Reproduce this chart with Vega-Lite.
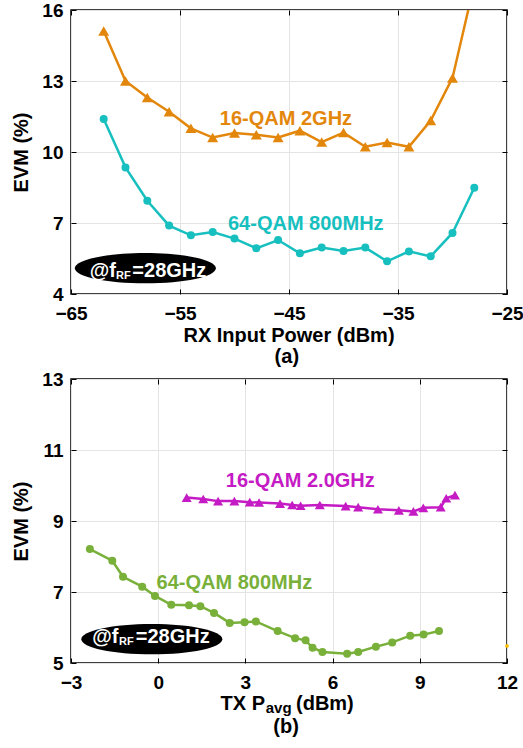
{
  "$schema": "https://vega.github.io/schema/vega-lite/v6.json",
  "background": "white",
  "padding": {"left": 11, "top": 0, "right": 0, "bottom": 0},
  "spacing": 1,
  "datasets": {
    "rx": [
      {"series": "16-QAM 2GHz", "power_dbm": -62, "evm_pct": 15.11},
      {"series": "16-QAM 2GHz", "power_dbm": -60, "evm_pct": 13.0},
      {"series": "16-QAM 2GHz", "power_dbm": -58, "evm_pct": 12.3},
      {"series": "16-QAM 2GHz", "power_dbm": -56, "evm_pct": 11.7},
      {"series": "16-QAM 2GHz", "power_dbm": -54, "evm_pct": 11.0},
      {"series": "16-QAM 2GHz", "power_dbm": -52, "evm_pct": 10.61},
      {"series": "16-QAM 2GHz", "power_dbm": -50, "evm_pct": 10.8},
      {"series": "16-QAM 2GHz", "power_dbm": -48, "evm_pct": 10.73},
      {"series": "16-QAM 2GHz", "power_dbm": -46, "evm_pct": 10.61},
      {"series": "16-QAM 2GHz", "power_dbm": -44, "evm_pct": 10.9},
      {"series": "16-QAM 2GHz", "power_dbm": -42, "evm_pct": 10.42},
      {"series": "16-QAM 2GHz", "power_dbm": -40, "evm_pct": 10.82},
      {"series": "16-QAM 2GHz", "power_dbm": -38, "evm_pct": 10.22},
      {"series": "16-QAM 2GHz", "power_dbm": -36, "evm_pct": 10.4},
      {"series": "16-QAM 2GHz", "power_dbm": -34, "evm_pct": 10.22},
      {"series": "16-QAM 2GHz", "power_dbm": -32, "evm_pct": 11.33},
      {"series": "16-QAM 2GHz", "power_dbm": -30, "evm_pct": 13.13},
      {"series": "16-QAM 2GHz", "power_dbm": -28, "evm_pct": 17.1},
      {"series": "64-QAM 800MHz", "power_dbm": -62, "evm_pct": 11.39},
      {"series": "64-QAM 800MHz", "power_dbm": -60, "evm_pct": 9.35},
      {"series": "64-QAM 800MHz", "power_dbm": -58, "evm_pct": 7.94},
      {"series": "64-QAM 800MHz", "power_dbm": -56, "evm_pct": 6.89},
      {"series": "64-QAM 800MHz", "power_dbm": -54, "evm_pct": 6.48},
      {"series": "64-QAM 800MHz", "power_dbm": -52, "evm_pct": 6.62},
      {"series": "64-QAM 800MHz", "power_dbm": -50, "evm_pct": 6.34},
      {"series": "64-QAM 800MHz", "power_dbm": -48, "evm_pct": 5.93},
      {"series": "64-QAM 800MHz", "power_dbm": -46, "evm_pct": 6.28},
      {"series": "64-QAM 800MHz", "power_dbm": -44, "evm_pct": 5.72},
      {"series": "64-QAM 800MHz", "power_dbm": -42, "evm_pct": 5.96},
      {"series": "64-QAM 800MHz", "power_dbm": -40, "evm_pct": 5.82},
      {"series": "64-QAM 800MHz", "power_dbm": -38, "evm_pct": 5.96},
      {"series": "64-QAM 800MHz", "power_dbm": -36, "evm_pct": 5.38},
      {"series": "64-QAM 800MHz", "power_dbm": -34, "evm_pct": 5.8},
      {"series": "64-QAM 800MHz", "power_dbm": -32, "evm_pct": 5.59},
      {"series": "64-QAM 800MHz", "power_dbm": -30, "evm_pct": 6.58},
      {"series": "64-QAM 800MHz", "power_dbm": -28, "evm_pct": 8.49}
    ],
    "tx": [
      {"series": "16-QAM 2.0GHz", "pavg_dbm": 0.98, "evm_pct": 9.66},
      {"series": "16-QAM 2.0GHz", "pavg_dbm": 1.55, "evm_pct": 9.62},
      {"series": "16-QAM 2.0GHz", "pavg_dbm": 2.06, "evm_pct": 9.56},
      {"series": "16-QAM 2.0GHz", "pavg_dbm": 2.62, "evm_pct": 9.56},
      {"series": "16-QAM 2.0GHz", "pavg_dbm": 3.15, "evm_pct": 9.53},
      {"series": "16-QAM 2.0GHz", "pavg_dbm": 3.47, "evm_pct": 9.52},
      {"series": "16-QAM 2.0GHz", "pavg_dbm": 4.19, "evm_pct": 9.49},
      {"series": "16-QAM 2.0GHz", "pavg_dbm": 4.61, "evm_pct": 9.45},
      {"series": "16-QAM 2.0GHz", "pavg_dbm": 4.9, "evm_pct": 9.43},
      {"series": "16-QAM 2.0GHz", "pavg_dbm": 5.56, "evm_pct": 9.45},
      {"series": "16-QAM 2.0GHz", "pavg_dbm": 6.45, "evm_pct": 9.42},
      {"series": "16-QAM 2.0GHz", "pavg_dbm": 6.88, "evm_pct": 9.39},
      {"series": "16-QAM 2.0GHz", "pavg_dbm": 7.56, "evm_pct": 9.33},
      {"series": "16-QAM 2.0GHz", "pavg_dbm": 8.28, "evm_pct": 9.3},
      {"series": "16-QAM 2.0GHz", "pavg_dbm": 8.78, "evm_pct": 9.27},
      {"series": "16-QAM 2.0GHz", "pavg_dbm": 9.12, "evm_pct": 9.37},
      {"series": "16-QAM 2.0GHz", "pavg_dbm": 9.72, "evm_pct": 9.39},
      {"series": "16-QAM 2.0GHz", "pavg_dbm": 9.91, "evm_pct": 9.64},
      {"series": "16-QAM 2.0GHz", "pavg_dbm": 10.21, "evm_pct": 9.73},
      {"series": "64-QAM 800MHz", "pavg_dbm": -2.35, "evm_pct": 8.21},
      {"series": "64-QAM 800MHz", "pavg_dbm": -1.58, "evm_pct": 7.88},
      {"series": "64-QAM 800MHz", "pavg_dbm": -1.21, "evm_pct": 7.43},
      {"series": "64-QAM 800MHz", "pavg_dbm": -0.55, "evm_pct": 7.15},
      {"series": "64-QAM 800MHz", "pavg_dbm": -0.11, "evm_pct": 6.89},
      {"series": "64-QAM 800MHz", "pavg_dbm": 0.45, "evm_pct": 6.64},
      {"series": "64-QAM 800MHz", "pavg_dbm": 1.06, "evm_pct": 6.63},
      {"series": "64-QAM 800MHz", "pavg_dbm": 1.45, "evm_pct": 6.6},
      {"series": "64-QAM 800MHz", "pavg_dbm": 1.92, "evm_pct": 6.41},
      {"series": "64-QAM 800MHz", "pavg_dbm": 2.46, "evm_pct": 6.13},
      {"series": "64-QAM 800MHz", "pavg_dbm": 2.97, "evm_pct": 6.15},
      {"series": "64-QAM 800MHz", "pavg_dbm": 3.36, "evm_pct": 6.17},
      {"series": "64-QAM 800MHz", "pavg_dbm": 4.11, "evm_pct": 5.9},
      {"series": "64-QAM 800MHz", "pavg_dbm": 4.71, "evm_pct": 5.7},
      {"series": "64-QAM 800MHz", "pavg_dbm": 5.07, "evm_pct": 5.64},
      {"series": "64-QAM 800MHz", "pavg_dbm": 5.31, "evm_pct": 5.43},
      {"series": "64-QAM 800MHz", "pavg_dbm": 5.65, "evm_pct": 5.31},
      {"series": "64-QAM 800MHz", "pavg_dbm": 6.5, "evm_pct": 5.26},
      {"series": "64-QAM 800MHz", "pavg_dbm": 6.88, "evm_pct": 5.31},
      {"series": "64-QAM 800MHz", "pavg_dbm": 7.49, "evm_pct": 5.46},
      {"series": "64-QAM 800MHz", "pavg_dbm": 8.05, "evm_pct": 5.58},
      {"series": "64-QAM 800MHz", "pavg_dbm": 8.67, "evm_pct": 5.77},
      {"series": "64-QAM 800MHz", "pavg_dbm": 9.13, "evm_pct": 5.8},
      {"series": "64-QAM 800MHz", "pavg_dbm": 9.66, "evm_pct": 5.9}
    ]
  },
  "vconcat": [
    {
      "width": 436,
      "height": 284,
      "resolve": {"axis": {"x": "independent", "y": "independent"}},
      "layer": [
        {
          "data": {"name": "rx"},
          "mark": {"type": "line", "strokeWidth": 2.5, "clip": true},
          "encoding": {
            "x": {"field": "power_dbm", "type": "quantitative",
                  "scale": {"domain": [-65, -25], "nice": false, "zero": false},
                  "axis": {"values": [-65, -55, -45, -35, -25], "title": null}},
            "y": {"field": "evm_pct", "type": "quantitative",
                  "scale": {"domain": [4, 16], "nice": false, "zero": false},
                  "axis": {"values": [4, 7, 10, 13, 16], "title": "EVM (%)"}},
            "color": {"field": "series", "type": "nominal", "legend": null,
                      "scale": {"domain": ["16-QAM 2GHz", "64-QAM 800MHz"], "range": ["#e3870c", "#17bfbf"]}}
          }
        },
        {
          "data": {"name": "rx"},
          "transform": [{"filter": "datum.series === '16-QAM 2GHz'"}],
          "mark": {"type": "point", "shape": "triangle-up", "filled": true, "opacity": 1, "size": 120, "clip": true},
          "encoding": {
            "x": {"field": "power_dbm", "type": "quantitative", "axis": null},
            "y": {"field": "evm_pct", "type": "quantitative", "axis": null},
            "color": {"field": "series", "type": "nominal", "legend": null}
          }
        },
        {
          "data": {"name": "rx"},
          "transform": [{"filter": "datum.series === '64-QAM 800MHz'"}],
          "mark": {"type": "point", "shape": "circle", "filled": true, "opacity": 1, "size": 64, "clip": true},
          "encoding": {
            "x": {"field": "power_dbm", "type": "quantitative", "axis": null},
            "y": {"field": "evm_pct", "type": "quantitative", "axis": null},
            "color": {"field": "series", "type": "nominal", "legend": null}
          }
        },
        {
          "data": {"values": [
            {"series": "16-QAM 2GHz", "x": -45.28, "y": 11.15},
            {"series": "64-QAM 800MHz", "x": -43.46, "y": 6.72}
          ]},
          "mark": {"type": "text", "fontSize": 20, "fontWeight": "bold", "align": "center", "baseline": "alphabetic"},
          "encoding": {
            "x": {"field": "x", "type": "quantitative", "axis": null},
            "y": {"field": "y", "type": "quantitative", "axis": null},
            "text": {"field": "series"},
            "color": {"field": "series", "type": "nominal", "legend": null}
          }
        },
        {
          "data": {"values": [{"x": -58.18, "y": 5.09}]},
          "mark": {"type": "point", "filled": true, "opacity": 1, "color": "black", "size": 19881,
                   "shape": "M1,0 C1,0.1188 0.5523,0.215 0,0.215 C-0.5523,0.215 -1,0.1188 -1,0 C-1,-0.1188 -0.5523,-0.215 0,-0.215 C0.5523,-0.215 1,-0.1188 1,0 Z"},
          "encoding": {
            "x": {"field": "x", "type": "quantitative",
                  "axis": {"orient": "top", "values": [-65, -55, -45, -35, -25], "labels": false, "grid": false, "title": null}},
            "y": {"field": "y", "type": "quantitative",
                  "axis": {"orient": "right", "values": [4, 7, 10, 13, 16], "labels": false, "grid": false, "title": null}}
          }
        },
        {
          "data": {"values": [{"x": -58.18, "y": 5.09, "t": "@f"}]},
          "mark": {"type": "text", "fontSize": 20, "fontWeight": "bold", "color": "white", "align": "left", "baseline": "alphabetic", "dx": -55.6, "dy": 8.7},
          "encoding": {"x": {"field": "x", "type": "quantitative", "axis": null}, "y": {"field": "y", "type": "quantitative", "axis": null}, "text": {"field": "t"}}
        },
        {
          "data": {"values": [{"x": -58.18, "y": 5.09, "t": "RF"}]},
          "mark": {"type": "text", "fontSize": 11, "fontWeight": "bold", "color": "white", "align": "left", "baseline": "alphabetic", "dx": -29.3, "dy": 11},
          "encoding": {"x": {"field": "x", "type": "quantitative", "axis": null}, "y": {"field": "y", "type": "quantitative", "axis": null}, "text": {"field": "t"}}
        },
        {
          "data": {"values": [{"x": -58.18, "y": 5.09, "t": "=28GHz"}]},
          "mark": {"type": "text", "fontSize": 20, "fontWeight": "bold", "color": "white", "align": "left", "baseline": "alphabetic", "dx": -13, "dy": 8.7},
          "encoding": {"x": {"field": "x", "type": "quantitative", "axis": null}, "y": {"field": "y", "type": "quantitative", "axis": null}, "text": {"field": "t"}}
        },
        {
          "data": {"values": [{"x": -45, "y": 4, "t": "RX Input Power (dBm)"}]},
          "mark": {"type": "text", "fontSize": 20, "fontWeight": "bold", "color": "black", "align": "center", "baseline": "alphabetic", "dy": 47.7},
          "encoding": {"x": {"field": "x", "type": "quantitative", "axis": null}, "y": {"field": "y", "type": "quantitative", "axis": null}, "text": {"field": "t"}}
        },
        {
          "data": {"values": [{"x": -45.2, "y": 4, "t": "(a)"}]},
          "mark": {"type": "text", "fontSize": 20, "fontWeight": "bold", "color": "black", "align": "center", "baseline": "alphabetic", "dy": 69},
          "encoding": {"x": {"field": "x", "type": "quantitative", "axis": null}, "y": {"field": "y", "type": "quantitative", "axis": null}, "text": {"field": "t"}}
        }
      ]
    },
    {
      "width": 436,
      "height": 284,
      "resolve": {"axis": {"x": "independent", "y": "independent"}},
      "layer": [
        {
          "data": {"name": "tx"},
          "mark": {"type": "line", "strokeWidth": 2.5, "clip": true},
          "encoding": {
            "x": {"field": "pavg_dbm", "type": "quantitative",
                  "scale": {"domain": [-3, 12], "nice": false, "zero": false},
                  "axis": {"values": [-3, 0, 3, 6, 9, 12], "title": null}},
            "y": {"field": "evm_pct", "type": "quantitative",
                  "scale": {"domain": [5, 13], "nice": false, "zero": false},
                  "axis": {"values": [5, 7, 9, 11, 13], "title": "EVM (%)"}},
            "color": {"field": "series", "type": "nominal", "legend": null,
                      "scale": {"domain": ["16-QAM 2.0GHz", "64-QAM 800MHz"], "range": ["#c51bc5", "#78b03a"]}}
          }
        },
        {
          "data": {"name": "tx"},
          "transform": [{"filter": "datum.series === '16-QAM 2.0GHz'"}],
          "mark": {"type": "point", "shape": "triangle-up", "filled": true, "opacity": 1, "size": 100, "clip": true},
          "encoding": {
            "x": {"field": "pavg_dbm", "type": "quantitative", "axis": null},
            "y": {"field": "evm_pct", "type": "quantitative", "axis": null},
            "color": {"field": "series", "type": "nominal", "legend": null}
          }
        },
        {
          "data": {"name": "tx"},
          "transform": [{"filter": "datum.series === '64-QAM 800MHz'"}],
          "mark": {"type": "point", "shape": "circle", "filled": true, "opacity": 1, "size": 64, "clip": true},
          "encoding": {
            "x": {"field": "pavg_dbm", "type": "quantitative", "axis": null},
            "y": {"field": "evm_pct", "type": "quantitative", "axis": null},
            "color": {"field": "series", "type": "nominal", "legend": null}
          }
        },
        {
          "data": {"values": [{"x": 12, "y": 5.48}]},
          "mark": {"type": "point", "shape": "circle", "filled": true, "opacity": 1, "size": 14, "color": "#ffbf00"},
          "encoding": {
            "x": {"field": "x", "type": "quantitative", "axis": null},
            "y": {"field": "y", "type": "quantitative", "axis": null}
          }
        },
        {
          "data": {"values": [
            {"series": "16-QAM 2.0GHz", "x": 4.89, "y": 9.97},
            {"series": "64-QAM 800MHz", "x": 2.62, "y": 7.08}
          ]},
          "mark": {"type": "text", "fontSize": 20, "fontWeight": "bold", "align": "center", "baseline": "alphabetic"},
          "encoding": {
            "x": {"field": "x", "type": "quantitative", "axis": null},
            "y": {"field": "y", "type": "quantitative", "axis": null},
            "text": {"field": "series"},
            "color": {"field": "series", "type": "nominal", "legend": null}
          }
        },
        {
          "data": {"values": [{"x": -0.22, "y": 5.67}]},
          "mark": {"type": "point", "filled": true, "opacity": 1, "color": "black", "size": 19881,
                   "shape": "M1,0 C1,0.1188 0.5523,0.215 0,0.215 C-0.5523,0.215 -1,0.1188 -1,0 C-1,-0.1188 -0.5523,-0.215 0,-0.215 C0.5523,-0.215 1,-0.1188 1,0 Z"},
          "encoding": {
            "x": {"field": "x", "type": "quantitative",
                  "axis": {"orient": "top", "values": [-3, 0, 3, 6, 9, 12], "labels": false, "grid": false, "title": null}},
            "y": {"field": "y", "type": "quantitative",
                  "axis": {"orient": "right", "values": [5, 7, 9, 11, 13], "labels": false, "grid": false, "title": null}}
          }
        },
        {
          "data": {"values": [{"x": -0.22, "y": 5.67, "t": "@f"}]},
          "mark": {"type": "text", "fontSize": 20, "fontWeight": "bold", "color": "white", "align": "left", "baseline": "alphabetic", "dx": -59.5, "dy": 4},
          "encoding": {"x": {"field": "x", "type": "quantitative", "axis": null}, "y": {"field": "y", "type": "quantitative", "axis": null}, "text": {"field": "t"}}
        },
        {
          "data": {"values": [{"x": -0.22, "y": 5.67, "t": "RF"}]},
          "mark": {"type": "text", "fontSize": 11, "fontWeight": "bold", "color": "white", "align": "left", "baseline": "alphabetic", "dx": -32.8, "dy": 6},
          "encoding": {"x": {"field": "x", "type": "quantitative", "axis": null}, "y": {"field": "y", "type": "quantitative", "axis": null}, "text": {"field": "t"}}
        },
        {
          "data": {"values": [{"x": -0.22, "y": 5.67, "t": "=28GHz"}]},
          "mark": {"type": "text", "fontSize": 20, "fontWeight": "bold", "color": "white", "align": "left", "baseline": "alphabetic", "dx": -16.1, "dy": 4},
          "encoding": {"x": {"field": "x", "type": "quantitative", "axis": null}, "y": {"field": "y", "type": "quantitative", "axis": null}, "text": {"field": "t"}}
        },
        {
          "data": {"values": [{"x": 4.5, "y": 5, "t": "TX P"}]},
          "mark": {"type": "text", "fontSize": 20, "fontWeight": "bold", "color": "black", "align": "right", "baseline": "alphabetic", "dx": -24, "dy": 47},
          "encoding": {"x": {"field": "x", "type": "quantitative", "axis": null}, "y": {"field": "y", "type": "quantitative", "axis": null}, "text": {"field": "t"}}
        },
        {
          "data": {"values": [{"x": 4.5, "y": 5, "t": "avg"}]},
          "mark": {"type": "text", "fontSize": 15, "fontWeight": "bold", "color": "black", "align": "left", "baseline": "alphabetic", "dx": -23.3, "dy": 49.5},
          "encoding": {"x": {"field": "x", "type": "quantitative", "axis": null}, "y": {"field": "y", "type": "quantitative", "axis": null}, "text": {"field": "t"}}
        },
        {
          "data": {"values": [{"x": 4.5, "y": 5, "t": "(dBm)"}]},
          "mark": {"type": "text", "fontSize": 20, "fontWeight": "bold", "color": "black", "align": "left", "baseline": "alphabetic", "dx": 7, "dy": 47},
          "encoding": {"x": {"field": "x", "type": "quantitative", "axis": null}, "y": {"field": "y", "type": "quantitative", "axis": null}, "text": {"field": "t"}}
        },
        {
          "data": {"values": [{"x": 4.4, "y": 5, "t": "(b)"}]},
          "mark": {"type": "text", "fontSize": 20, "fontWeight": "bold", "color": "black", "align": "center", "baseline": "alphabetic", "dy": 70},
          "encoding": {"x": {"field": "x", "type": "quantitative", "axis": null}, "y": {"field": "y", "type": "quantitative", "axis": null}, "text": {"field": "t"}}
        }
      ]
    }
  ],
  "resolve": {"scale": {"color": "independent"}},
  "config": {
    "font": "Liberation Sans",
    "view": {"stroke": "black", "strokeWidth": 1.5},
    "text": {"font": "Liberation Sans"},
    "axis": {
      "labelFont": "Liberation Sans",
      "labelFontWeight": "bold",
      "labelFontSize": 19,
      "labelColor": "black",
      "labelFlush": false,
      "labelOverlap": false,
      "titleFont": "Liberation Sans",
      "titleFontWeight": "bold",
      "titleFontSize": 20,
      "titleColor": "black",
      "titlePadding": 10,
      "domain": false,
      "grid": true,
      "gridColor": "#e4e4e4",
      "gridWidth": 1,
      "ticks": true,
      "tickColor": "black",
      "tickWidth": 1,
      "tickSize": -5
    },
    "axisX": {"labelPadding": 15},
    "axisY": {"labelPadding": 13}
  }
}
